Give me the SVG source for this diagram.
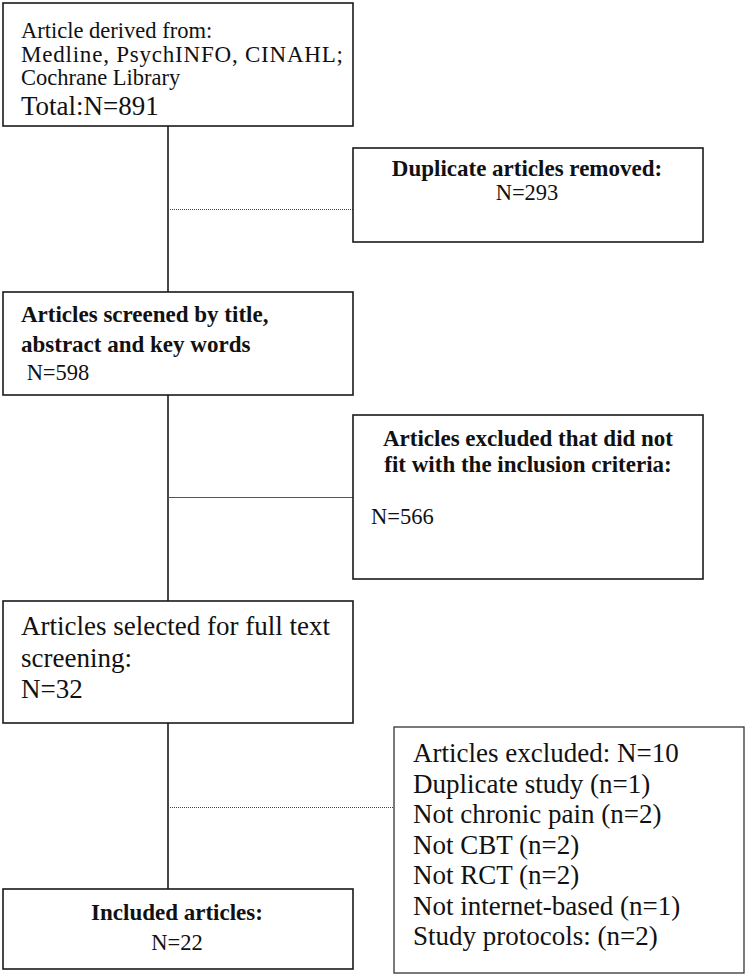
<svg xmlns="http://www.w3.org/2000/svg" width="748" height="977" viewBox="0 0 748 977">
<style>
.box{fill:#fff;stroke:#1a1a1a;stroke-width:1.6}
.t{font-family:"Liberation Serif","Times New Roman",serif;fill:#111}
.b{font-weight:bold}
.c{text-anchor:middle}
.conn{stroke:#1a1a1a;stroke-width:1.6;fill:none}
.dot{stroke:#444;stroke-width:1;stroke-dasharray:1 1;fill:none}
.thin{stroke:#555;stroke-width:1;fill:none}
</style>
<rect width="748" height="977" fill="#fff"/>
<g id="connectors">
<line class="conn" x1="168" y1="126" x2="168" y2="292"/>
<line class="conn" x1="168" y1="395" x2="168" y2="601"/>
<line class="conn" x1="168" y1="723" x2="168" y2="889"/>
<line class="dot" x1="168" y1="209.5" x2="353" y2="209.5"/>
<line class="thin" x1="168" y1="497.5" x2="353" y2="497.5"/>
<line class="dot" x1="168" y1="807.5" x2="394" y2="807.5"/>
</g>
<g id="n1">
<rect class="box" x="3" y="3" width="350" height="123"/>
<text class="t" x="21" y="38" font-size="22.5">Article derived from:</text>
<text class="t" x="21" y="62" font-size="23" textLength="322" lengthAdjust="spacing">Medline, PsychINFO, CINAHL;</text>
<text class="t" x="21" y="85" font-size="22.5">Cochrane Library</text>
<text class="t" x="21" y="115" font-size="27">Total:N=891</text>
</g>
<g id="n2">
<rect class="box" x="353" y="148" width="350" height="94"/>
<text class="t b c" x="527" y="176" font-size="23">Duplicate articles removed:</text>
<text class="t c" x="527" y="200" font-size="22.5">N=293</text>
</g>
<g id="n3">
<rect class="box" x="3" y="292" width="350" height="103"/>
<text class="t b" x="21" y="322" font-size="23">Articles screened by title,</text>
<text class="t b" x="21" y="352" font-size="23">abstract and key words</text>
<text class="t" x="21" y="380" font-size="22.5" xml:space="preserve"> N=598</text>
</g>
<g id="n4">
<rect class="box" x="353" y="415" width="350" height="164"/>
<text class="t b c" x="528" y="446" font-size="23">Articles excluded that did not</text>
<text class="t b c" x="528" y="472" font-size="23">fit with the inclusion criteria:</text>
<text class="t" x="371" y="524" font-size="22.5">N=566</text>
</g>
<g id="n5">
<rect class="box" x="3" y="601" width="350" height="122"/>
<text class="t" x="21" y="635" font-size="27">Articles selected for full text</text>
<text class="t" x="21" y="667" font-size="27">screening:</text>
<text class="t" x="21" y="698" font-size="27">N=32</text>
</g>
<g id="n6">
<rect class="box" x="3" y="889" width="350" height="80"/>
<text class="t b c" x="177" y="920" font-size="23">Included articles:</text>
<text class="t c" x="177" y="950" font-size="22.5">N=22</text>
</g>
<g id="n7">
<rect class="box" x="394" y="727" width="350" height="246" style="stroke:#333;stroke-width:1.3"/>
<text class="t" x="413" y="762" font-size="27">Articles excluded: N=10</text>
<text class="t" x="413" y="792.5" font-size="27">Duplicate study (n=1)</text>
<text class="t" x="413" y="823" font-size="27">Not chronic pain (n=2)</text>
<text class="t" x="413" y="853.5" font-size="27">Not CBT (n=2)</text>
<text class="t" x="413" y="884" font-size="27">Not RCT (n=2)</text>
<text class="t" x="413" y="914.5" font-size="27">Not internet-based (n=1)</text>
<text class="t" x="413" y="945" font-size="27">Study protocols: (n=2)</text>
</g>
</svg>
